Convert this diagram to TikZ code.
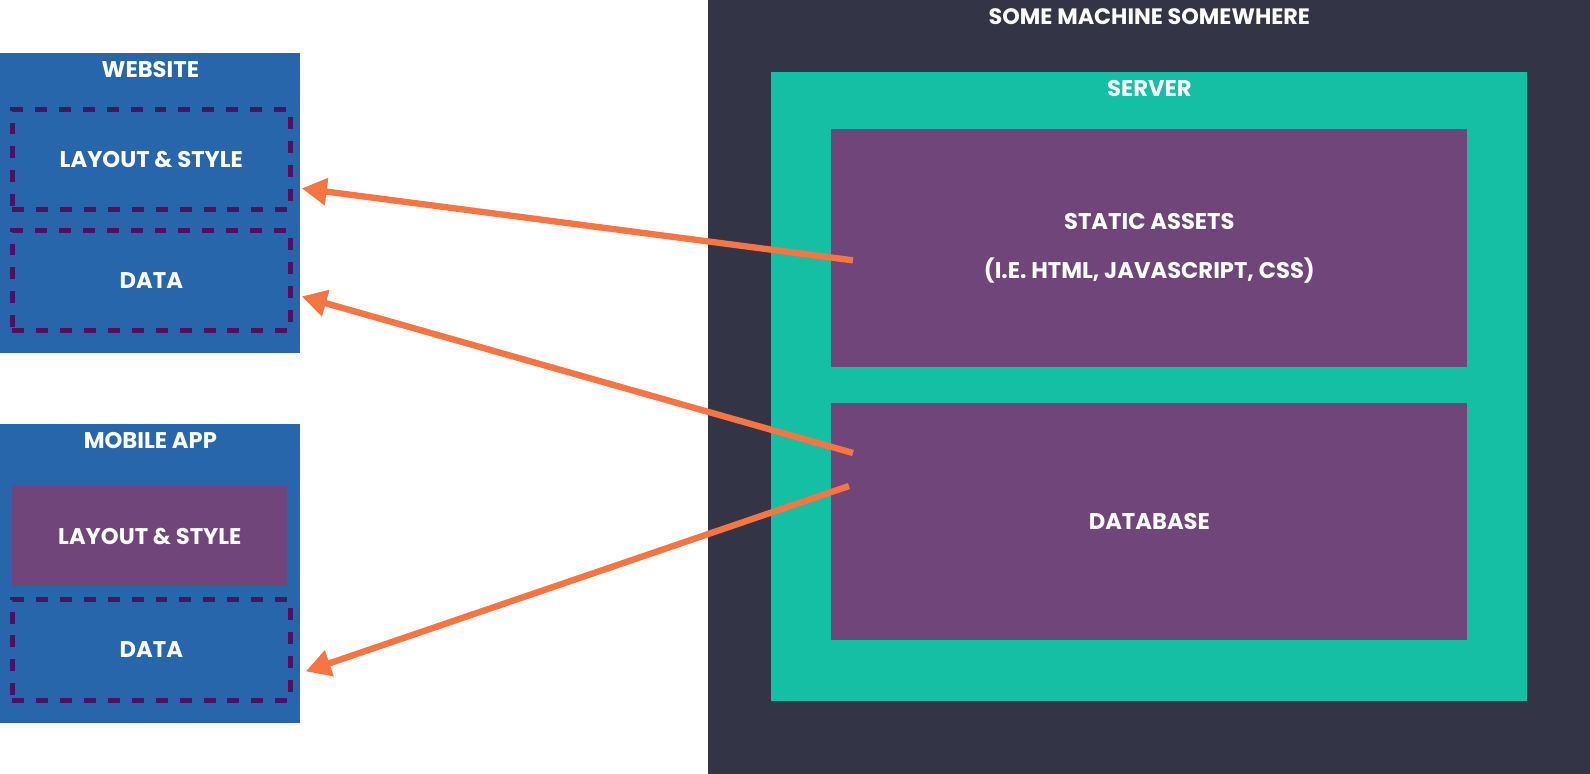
\documentclass[tikz,border=0pt]{standalone}
\usepackage{fontspec}
\setmainfont{Poppins}
\usetikzlibrary{positioning, arrows.meta}
\definecolor{machinedark}{RGB}{51, 52, 70}
\definecolor{servergreen}{RGB}{21, 191, 163}
\definecolor{assetpurple}{RGB}{112, 69, 122}
\definecolor{clientblue}{RGB}{40, 102, 172}
\definecolor{dashpurple}{RGB}{78, 17, 96}
\definecolor{arroworange}{RGB}{247, 117, 66}

\begin{document}
\begin{tikzpicture}[
  every node/.style={font=\bfseries\fontsize{12.9}{15}\selectfont, text=white},
  panel/.style={
    rectangle, fill=#1,
    anchor=north west, inner sep=0pt
  },
  dashbox/.style={
    rectangle, draw=dashpurple, line width=2.7pt,
    dash pattern=on 6.8pt off 6.8pt,
    anchor=north west, inner sep=0pt
  },
  arrow/.style={-{Triangle[length=0.5cm, width=0.52cm]}, line width=3.6pt, draw=#1},
  heading/.style={inner sep=0pt, anchor=center}
]
\useasboundingbox (0,0) rectangle (31.8,-15.48);

% ── Machine / server ──────────────────────────────────────────────────────────
\node[panel=machinedark, minimum width=17.64cm, minimum height=15.48cm]
  (machine) at (14.16,0) {};
\node[heading] (machinetitle) at ([yshift=-0.33cm]machine.north)
  {\fontsize{12.7}{15}\selectfont SOME MACHINE SOMEWHERE};

\node[panel=servergreen, minimum width=15.12cm, minimum height=12.58cm]
  (server) at (15.42,-1.44) {};
\node[heading] (servertitle) at ([yshift=-0.33cm]server.north) {SERVER};

\node[panel=assetpurple, minimum width=12.72cm, minimum height=4.76cm, align=center]
  (static) at (16.62,-2.58)
  {STATIC ASSETS\\[0.46cm] (I.E. HTML, JAVASCRIPT, CSS)};

\node[panel=assetpurple, minimum width=12.72cm, minimum height=4.74cm]
  (database) at (16.62,-8.06) {DATABASE};

% ── Website ───────────────────────────────────────────────────────────────────
\node[panel=clientblue, minimum width=6cm, minimum height=6cm]
  (website) at (0,-1.06) {};
\node[heading] (webtitle) at ([yshift=-0.34cm]website.north) {WEBSITE};

\node[dashbox, minimum width=5.56cm, minimum height=2cm]
  (weblayout) at (0.2,-2.14) {LAYOUT \& STYLE};
\node[dashbox, minimum width=5.56cm, minimum height=2cm]
  (webdata) at (0.2,-4.56) {DATA};

% ── Mobile app ────────────────────────────────────────────────────────────────
\node[panel=clientblue, minimum width=6cm, minimum height=5.98cm]
  (mobile) at (0,-8.48) {};
\node[heading] (mobiletitle) at ([yshift=-0.34cm]mobile.north) {MOBILE APP};

\node[panel=assetpurple, minimum width=5.5cm, minimum height=2cm]
  (moblayout) at (0.24,-9.72) {LAYOUT \& STYLE};
\node[dashbox, minimum width=5.56cm, minimum height=2.02cm]
  (mobdata) at (0.2,-11.94) {DATA};

% arrows server -> clients
\draw[arrow=arroworange] ([shift={(0.44,-0.24)}]static.west)
  -- ([shift={(0.18,-0.58)}]weblayout.east);
\draw[arrow=arroworange] ([shift={(0.44,-1.0)}]database.north west)
  -- ([shift={(0.18,-0.32)}]webdata.east);
\draw[arrow=arroworange] ([shift={(0.36,-1.66)}]database.north west)
  -- ([shift={(0.26,-0.43)}]mobdata.east);

\end{tikzpicture}
\end{document}
